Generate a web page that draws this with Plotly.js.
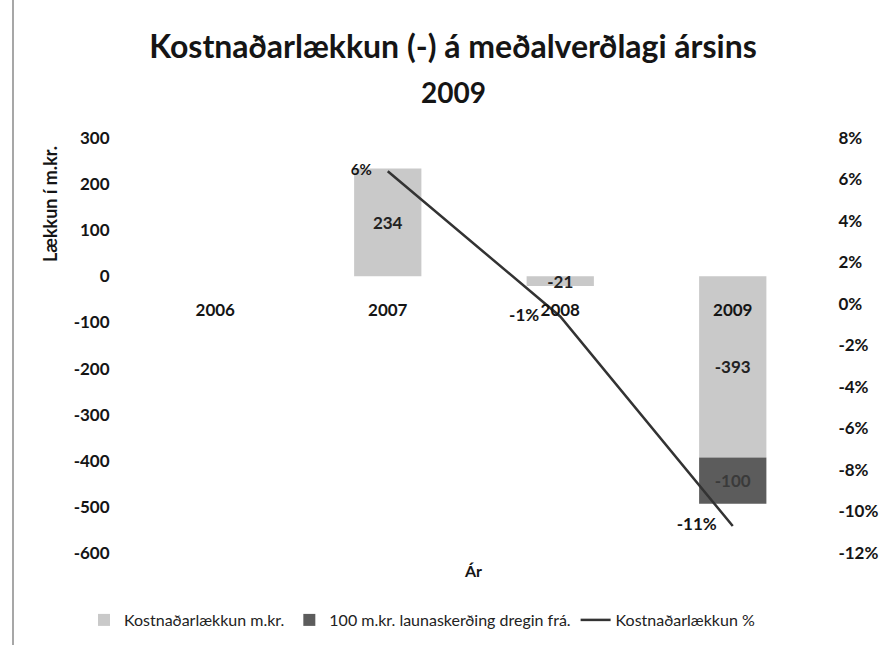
<!DOCTYPE html>
<html>
<head>
<meta charset="utf-8">
<script src="https://cdn.plot.ly/plotly-3.0.1.min.js"></script>
<style>html,body{margin:0;padding:0;background:#fff;}#chart{width:889px;height:645px;}</style>
</head>
<body>
<div id="chart"></div>
<script>
// ---- data ----
var years = ['2006', '2007', '2008', '2009'];
var costReduction = [null, 234, -21, -393];           // Kostnaðarlækkun m.kr.
var wageCut = [null, null, null, -100];               // 100 m.kr. launaskerðing dregin frá.
var costReductionPct = [null, 0.064, -0.006, -0.107]; // Kostnaðarlækkun %
var leftTicks = [-600, -500, -400, -300, -200, -100, 0, 100, 200, 300];
var leftTickLabels = ['-600', '-500', '-400', '-300', '-200', '-100', '0', '100', '200', '300'];
var rightTicks = [-0.12, -0.10, -0.08, -0.06, -0.04, -0.02, 0, 0.02, 0.04, 0.06, 0.08];
var rightTickLabels = ['-12%', '-10%', '-8%', '-6%', '-4%', '-2%', '0%', '2%', '4%', '6%', '8%'];

var FONT = 'Lato, "Open Sans", "DejaVu Sans", sans-serif';
var INK = '#151515';

function numText(arr) { return arr.map(function (v) { return v === null ? '' : String(v); }); }
function pctText(arr) { return arr.map(function (v) { return v === null ? '' : String(Math.round(v * 100)) + '%'; }); }

var traces = [
  {
    type: 'bar', name: 'Kostnaðarlækkun m.kr.', x: years, y: costReduction,
    marker: {color: '#c9c9c9', line: {width: 0}},
    text: numText(costReduction), textposition: 'inside', insidetextanchor: 'middle',
    constraintext: 'none',
    textfont: {family: FONT, size: 17, weight: 'bold', color: '#222'},
    hoverinfo: 'skip'
  },
  {
    type: 'bar', name: '100 m.kr. launaskerðing dregin frá.', x: years, y: wageCut,
    marker: {color: '#5c5c5c', line: {width: 0}},
    text: numText(wageCut), textposition: 'inside', insidetextanchor: 'middle',
    constraintext: 'none',
    textfont: {family: FONT, size: 17, weight: 'bold', color: '#3a3a3a'},
    hoverinfo: 'skip'
  },
  {
    type: 'scatter', mode: 'lines+markers+text', name: 'Kostnaðarlækkun %', x: years, y: costReductionPct,
    yaxis: 'y2', line: {color: '#333333', width: 2.5},
    marker: {size: [0, 24, 32, 24], color: 'rgba(0,0,0,0)', line: {width: 0}},
    text: pctText(costReductionPct), textposition: 'middle left',
    textfont: {family: FONT, size: [15, 15, 17, 17], weight: 'bold', color: INK},
    cliponaxis: false, hoverinfo: 'skip'
  }
];

var layout = {
  width: 889, height: 645,
  margin: {l: 129, r: 70, t: 138, b: 92},
  paper_bgcolor: '#ffffff', plot_bgcolor: '#ffffff',
  font: {family: FONT, color: INK},
  barmode: 'relative', bargap: 0.61,
  showlegend: true,
  title: {
    text: 'Kostnaðarlækkun (-) á meðalverðlagi ársins',
    font: {family: FONT, size: 32, weight: 'bold', color: INK},
    x: 453 / 889, xanchor: 'center', xref: 'container',
    y: 1 - 47 / 645, yanchor: 'middle', yref: 'container'
  },
  xaxis: {
    type: 'category', categoryorder: 'array', categoryarray: years,
    anchor: 'free', position: 600 / 900,
    showline: false, showgrid: false, zeroline: false,
    ticks: 'outside', ticklen: 18, tickcolor: 'rgba(0,0,0,0)',
    tickfont: {family: FONT, size: 17, weight: 'bold', color: INK}
  },
  yaxis: {
    range: [-600, 300], tickvals: leftTicks, ticktext: leftTickLabels,
    showline: false, showgrid: false, zeroline: false,
    ticks: 'outside', ticklen: 15, tickcolor: 'rgba(0,0,0,0)',
    tickfont: {family: FONT, size: 17, weight: 'bold', color: INK}
  },
  yaxis2: {
    overlaying: 'y', side: 'right',
    range: [-0.12, 0.08], tickvals: rightTicks, ticktext: rightTickLabels,
    showline: false, showgrid: false, zeroline: false,
    ticks: 'outside', ticklen: 15, tickcolor: 'rgba(0,0,0,0)',
    tickfont: {family: FONT, size: 17, weight: 'bold', color: INK}
  },
  legend: {
    orientation: 'h', xref: 'container', yref: 'container',
    x: 84 / 889, xanchor: 'left', y: 1 - 620 / 645, yanchor: 'middle',
    font: {family: FONT, size: 16, color: '#222'},
    traceorder: 'normal', itemwidth: 30
  },
  annotations: [
    {text: '2009', xref: 'paper', yref: 'paper', x: (453 - 129) / 690, y: (553 - 92) / 415,
     xanchor: 'center', yanchor: 'middle', showarrow: false,
     font: {family: FONT, size: 28, weight: 'bold', color: INK}},
    {text: 'Lækkun í m.kr.', xref: 'paper', yref: 'paper', x: (50 - 129) / 690, y: (553 - 204) / 415,
     xanchor: 'center', yanchor: 'middle', textangle: -90, showarrow: false,
     font: {family: FONT, size: 18, weight: 'bold', color: INK}},
    {text: 'Ár', xref: 'paper', yref: 'paper', x: (473 - 129) / 690, y: (553 - 570) / 415,
     xanchor: 'center', yanchor: 'middle', showarrow: false,
     font: {family: FONT, size: 16, weight: 'bold', color: INK}}
  ],
  shapes: [
    {type: 'line', xref: 'paper', yref: 'paper',
     x0: (13 - 129) / 690, x1: (13 - 129) / 690, y0: -92 / 415, y1: 1 + 138 / 415,
     line: {color: '#8a8a8a', width: 1.5}}
  ]
};

Plotly.newPlot('chart', traces, layout, {displayModeBar: false, staticPlot: true});
</script>
</body>
</html>
